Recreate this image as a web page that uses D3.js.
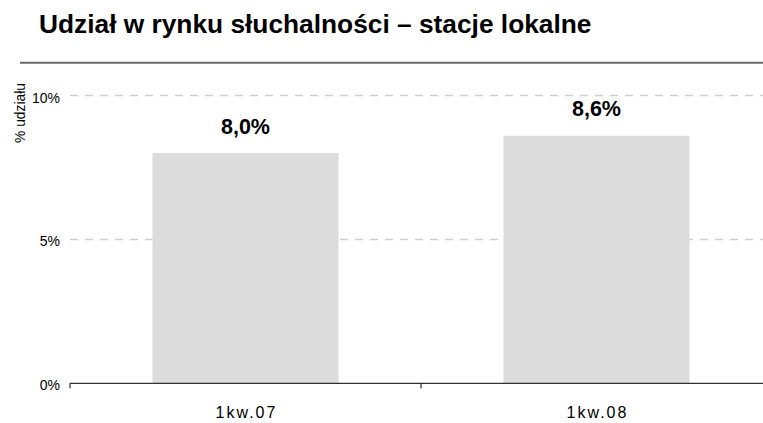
<!DOCTYPE html>
<html><head><meta charset="utf-8">
<script src="https://cdn.jsdelivr.net/npm/d3@7"></script>
<style>body{margin:0;background:#fff}svg{display:block;font-family:"Liberation Sans",Arial,sans-serif}</style>
</head><body>
<svg id="chart" width="763" height="423"></svg>
<script>
const categories = ["1kw.07", "1kw.08"];
const values = [8.0, 8.6];
const valueLabels = ["8,0%", "8,6%"];
const yTicks = [0, 5, 10];
const yTickLabels = ["0%", "5%", "10%"];
const title = "Udział w rynku słuchalności – stacje lokalne";
const yTitle = "% udziału";

const svg = d3.select("#chart");
const x = d3.scaleBand().domain(categories).range([70, 772]).paddingInner(0).paddingOuter(0);
const y = d3.scaleLinear().domain([0, 10]).range([383.3, 95.5]);
const barW = x.bandwidth() * 0.53;

svg.append("text").attr("x", 39).attr("y", 32.7).attr("font-size", 26.3).attr("font-weight", "bold").attr("fill", "#000").text(title);
svg.append("line").attr("x1", 20).attr("x2", 763).attr("y1", 62.7).attr("y2", 62.7).attr("stroke", "#6b6b6b").attr("stroke-width", 2);

// gridlines
svg.selectAll(".grid").data(yTicks.filter(d => d > 0)).join("line")
  .attr("x1", 70).attr("x2", 763).attr("y1", d => y(d)).attr("y2", d => y(d))
  .attr("stroke", "#cfcfcf").attr("stroke-width", 1.5).attr("stroke-dasharray", "8,7");

// bars
svg.selectAll(".bar").data(values).join("rect")
  .attr("x", (d, i) => x(categories[i]) + (x.bandwidth() - barW) / 2)
  .attr("width", barW)
  .attr("y", d => y(d)).attr("height", d => y(0) - y(d))
  .attr("fill", "#dcdcdc");

// value labels
svg.selectAll(".vl").data(values).join("text")
  .attr("x", (d, i) => x(categories[i]) + x.bandwidth() / 2)
  .attr("y", d => y(d) - 19.5)
  .attr("text-anchor", "middle").attr("font-size", 21.5).attr("font-weight", "bold")
  .text((d, i) => valueLabels[i]);

// x axis
svg.append("line").attr("x1", 70).attr("x2", 763).attr("y1", y(0)).attr("y2", y(0)).attr("stroke", "#000").attr("stroke-width", 1);
svg.selectAll(".xt").data(categories).join("line")
  .attr("x1", d => x(d)).attr("x2", d => x(d)).attr("y1", y(0)).attr("y2", y(0) + 5)
  .attr("stroke", "#000").attr("stroke-width", 1);
svg.selectAll(".xl").data(categories).join("text")
  .attr("x", d => x(d) + x.bandwidth() / 2 + 1).attr("y", 418)
  .attr("text-anchor", "middle").attr("font-size", 16).attr("letter-spacing", "2px").attr("fill", "#000")
  .text(d => d);

// y tick labels
svg.selectAll(".yl").data(yTicks).join("text")
  .attr("x", 60).attr("y", d => y(d) + 7)
  .attr("text-anchor", "end").attr("font-size", 14).attr("fill", "#000")
  .text((d, i) => yTickLabels[i]);

svg.append("text").attr("transform", "translate(25,113) rotate(-90)")
  .attr("text-anchor", "middle").attr("font-size", 13.8).attr("fill", "#000").text(yTitle);
</script>
</body></html>
